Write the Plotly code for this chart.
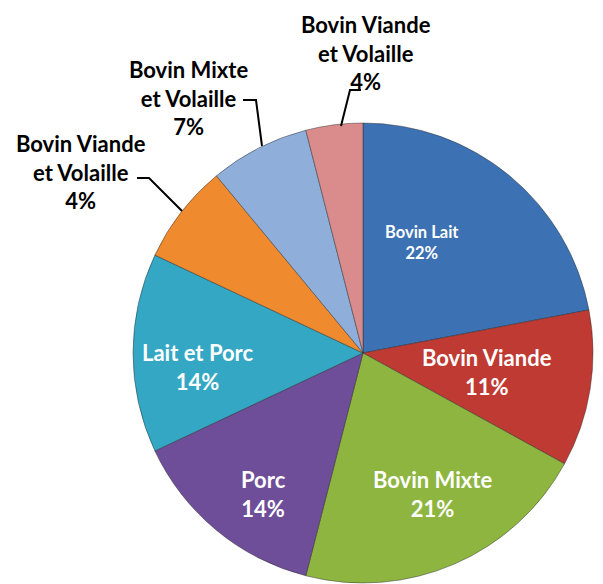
import plotly.graph_objects as go

categories = ["Bovin Lait", "Bovin Viande", "Bovin Mixte", "Porc", "Lait et Porc",
              "Bovin Viande<br>et Volaille", "Bovin Mixte<br>et Volaille", "Bovin Viande<br>et Volaille"]
values = [22, 11, 21, 14, 14, 7, 7, 4]
pct_labels = ["22%", "11%", "21%", "14%", "14%", "4%", "7%", "4%"]
colors = ["#3C71B3", "#BF3A33", "#8DB540", "#6F4E99", "#33A7C4", "#EF8A2F", "#8FAEDA", "#D98C8B"]

W, H = 603, 584
FONT = "Lato"

fig = go.Figure(go.Pie(
    labels=[f"s{i}" for i in range(len(values))],
    values=values,
    textinfo="none",
    sort=False,
    direction="clockwise",
    rotation=0,
    marker=dict(colors=colors, line=dict(color="rgba(40,40,40,0.45)", width=1)),
    domain=dict(x=[133 / W, 593 / W], y=[0, 462 / H]),
    hoverinfo="skip",
    showlegend=False,
))

# label placement (px, centre of text block), text colour, size, leader line
label_layout = [
    (422, 243, "white", 16.5, None),
    (487, 372, "white", 22, None),
    (433, 494, "white", 22, None),
    (263, 494, "white", 22, None),
    (198, 367, "white", 22, None),
    (81, 172, "black", 22, [(137, 178), (149, 178), (182, 211)]),
    (188, 98, "black", 22, [(243, 100), (256, 100), (262, 146)]),
    (366, 53, "black", 22, [(361, 90), (350, 90), (341, 126)]),
]
for i, (cx, cy, col, size, pts) in enumerate(label_layout):
    fig.add_annotation(
        x=cx / W, y=1 - cy / H, xref="paper", yref="paper",
        xanchor="center", yanchor="middle",
        text=f"{categories[i]}<br>{pct_labels[i]}",
        showarrow=False, align="center",
        font=dict(family=FONT, size=size, color=col, weight="bold"),
    )
    if pts:
        path = "M " + " L ".join(f"{x / W},{1 - y / H}" for x, y in pts)
        fig.add_shape(type="path", path=path, xref="paper", yref="paper",
                      line=dict(color="black", width=2))

fig.update_layout(
    width=W, height=H,
    margin=dict(l=0, r=0, t=0, b=0),
    paper_bgcolor="white",
    plot_bgcolor="white",
)

fig.write_html("out.html", config={"displayModeBar": False},
               post_script="document.body.style.margin='0';")
